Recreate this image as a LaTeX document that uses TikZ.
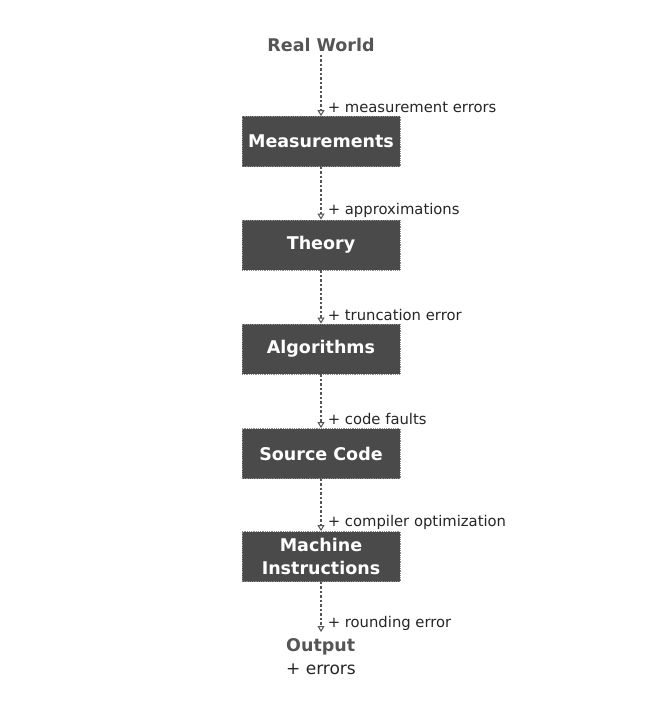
\documentclass[tikz,border=0pt]{standalone}
\usepackage{fontspec}
\setmainfont{DejaVu Sans}
\usetikzlibrary{arrows.meta}
\definecolor{boxfill}{HTML}{4A4A4A}
\definecolor{boxedge}{HTML}{8A8A8A}
\definecolor{ink}{HTML}{555555}
\begin{document}
\begin{tikzpicture}[x=1pt,y=-1pt,
  stepbox/.style={rectangle, fill=boxfill, draw=boxedge, densely dotted, line width=0.8pt,
    minimum width=158pt, minimum height=50pt, inner sep=0pt, align=center,
    text=white, font=\fontsize{17.5}{23}\selectfont\bfseries},
  endtext/.style={text=ink, inner sep=0pt, font=\fontsize{17.5}{23}\selectfont\bfseries},
  conn/.style={draw=ink, line width=1.6pt, dash pattern=on 2.5pt off 2pt,
    -{Triangle[open,length=6pt,width=7pt,line width=1pt]}},
  lbl/.style={text=black!85, inner sep=0pt, anchor=west, xshift=6pt, yshift=9pt,
    font=\fontsize{14.8}{18}\selectfont}]
\useasboundingbox (0,0) rectangle (654,706);
\node[endtext] (rw) at (321,45) {Real World};
\node[stepbox] (m1) at (321,141.5) {Measurements};
\node[stepbox] (m2) at (321,245) {Theory};
\node[stepbox] (m3) at (321,349) {Algorithms};
\node[stepbox] (m4) at (321,453.5) {Source Code};
\node[stepbox] (m5) at (321,556.5) {Machine\\Instructions};
\node[endtext, anchor=north, align=left] (out) at (321,638)
  {Output\\{\mdseries\color{black!85}\fontsize{17}{23}\selectfont + errors}};
\coordinate (rw0) at ([yshift=-3pt]rw.south);
\draw[conn] (rw0) -- (m1.north) node[lbl] {+ measurement errors};
\draw[conn] (m1.south) -- (m2.north) node[lbl] {+ approximations};
\draw[conn] (m2.south) -- (m3.north) node[lbl] {+ truncation error};
\draw[conn] (m3.south) -- (m4.north) node[lbl] {+ code faults};
\draw[conn] (m4.south) -- (m5.north) node[lbl] {+ compiler optimization};
\draw[conn] (m5.south) -- ([yshift=6pt]out.north) node[lbl] {+ rounding error};
\end{tikzpicture}
\end{document}
